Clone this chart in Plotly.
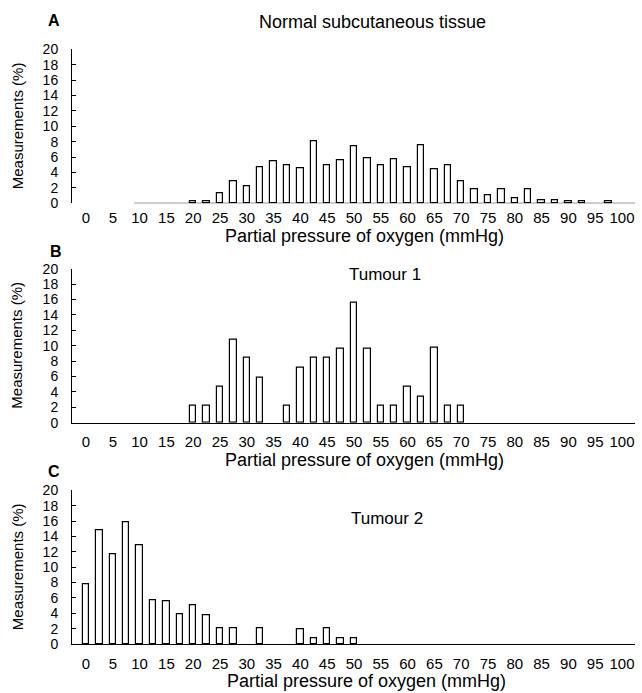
import plotly.graph_objects as go

# ---- data ----
x_ticks = [0, 5, 10, 15, 20, 25, 30, 35, 40, 45, 50, 55, 60, 65, 70, 75, 80, 85, 90, 95, 100]
y_ticks = [0, 2, 4, 6, 8, 10, 12, 14, 16, 18, 20]

normal_x = [20, 22.5, 25, 27.5, 30, 32.5, 35, 37.5, 40, 42.5, 45, 47.5, 50, 52.5, 55, 57.5,
            60, 62.5, 65, 67.5, 70, 72.5, 75, 77.5, 80, 82.5, 85, 87.5, 90, 92.5, 97.5]
normal_y = [0.3, 0.3, 1.3, 2.8, 2.2, 4.7, 5.4, 5.0, 4.5, 8.1, 5.0, 5.6, 7.4, 5.9, 4.9, 5.7,
            4.7, 7.5, 4.4, 4.9, 2.9, 1.8, 1.1, 1.8, 0.6, 1.8, 0.4, 0.4, 0.3, 0.3, 0.3]

tumour1_x = [20, 22.5, 25, 27.5, 30, 32.5, 37.5, 40, 42.5, 45, 47.5, 50, 52.5, 55, 57.5,
             60, 62.5, 65, 67.5, 70]
tumour1_y = [2.2, 2.2, 4.7, 10.8, 8.4, 5.8, 2.2, 7.2, 8.4, 8.4, 9.6, 15.6, 9.6, 2.2, 2.2,
             4.7, 3.4, 9.7, 2.2, 2.2]

tumour2_x = [0, 2.5, 5, 7.5, 10, 12.5, 15, 17.5, 20, 22.5, 25, 27.5, 32.5, 40, 42.5, 45, 47.5, 50]
tumour2_y = [7.8, 14.8, 11.7, 15.8, 12.8, 5.7, 5.6, 3.9, 5.0, 3.8, 2.0, 2.0, 2.0, 1.9, 0.8, 2.1, 0.8, 0.8]

panel_titles = ["Normal subcutaneous tissue", "Tumour 1", "Tumour 2"]
panel_letters = ["A", "B", "C"]
x_title = "Partial pressure of oxygen (mmHg)"
y_title = "Measurements (%)"

# ---- layout constants (pixels) ----
W, H = 642, 693
ML, MR = 72, 7
PW = W - ML - MR
FONT = "Liberation Sans, Arial, Helvetica, sans-serif"

# plot bottom/top (pixel y of value 0 and value 20) per panel
panel_px = [(203.3, 49.3), (422.7, 268.7), (644.0, 490.3)]
label_standoff = [4, 5, 6]
title_pos = [(372.5, 21.7), (385, 275), (386.7, 518.3)]
title_size = [18, 17, 17]
letter_pos = [(54, 21), (56, 251), (54, 471)]
xtitle_pos = [(364, 236), (364, 460), (366, 681)]

def px_x(p):
    return (p - ML) / PW

def px_y(p):
    return 1 - p / H

fig = go.Figure()
series = [(normal_x, normal_y), (tumour1_x, tumour1_y), (tumour2_x, tumour2_y)]
for i, (xs, ys) in enumerate(series):
    suffix = "" if i == 0 else str(i + 1)
    fig.add_trace(go.Bar(
        x=xs, y=ys, width=1.2,
        marker=dict(color="white", line=dict(color="black", width=1.2)),
        xaxis="x" + suffix, yaxis="y" + suffix, showlegend=False,
    ))

x_range = [(ML - 86) / 5.36, (W - MR - 86) / 5.36]
layout = dict(
    width=W, height=H, margin=dict(l=ML, r=MR, t=0, b=0),
    paper_bgcolor="white", plot_bgcolor="white",
    font=dict(family=FONT, color="black", size=14),
    bargap=0, showlegend=False,
)
annotations = []
shapes = []
for i in range(3):
    suffix = "" if i == 0 else str(i + 1)
    y0p, y1p = panel_px[i]
    layout["xaxis" + suffix] = dict(
        domain=[0, 1], range=x_range, anchor="y" + suffix,
        tickmode="array", tickvals=x_ticks, ticks="",
        ticklabelstandoff=label_standoff[i],
        showgrid=False, zeroline=False,
        showline=(i != 0), linecolor="black", linewidth=1,
        tickfont=dict(size=15), automargin=False, fixedrange=True,
    )
    layout["yaxis" + suffix] = dict(
        domain=[px_y(y0p), px_y(y1p)], range=[0, 20], anchor="x" + suffix,
        tickmode="array", tickvals=y_ticks, ticks="inside", ticklen=4,
        tickcolor="black", tickwidth=1, ticklabelstandoff=10,
        showgrid=False, zeroline=False,
        showline=True, linecolor="black", linewidth=1,
        tickfont=dict(size=14), automargin=False, fixedrange=True,
    )
    tx, ty = title_pos[i]
    annotations.append(dict(text=panel_titles[i], x=px_x(tx), y=px_y(ty), xref="paper", yref="paper",
                            xanchor="center", yanchor="middle", showarrow=False,
                            font=dict(size=title_size[i])))
    lx, ly = letter_pos[i]
    annotations.append(dict(text="<b>" + panel_letters[i] + "</b>", x=px_x(lx), y=px_y(ly),
                            xref="paper", yref="paper", xanchor="center", yanchor="middle",
                            showarrow=False, font=dict(size=16)))
    xx, xy = xtitle_pos[i]
    annotations.append(dict(text=x_title, x=px_x(xx), y=px_y(xy), xref="paper", yref="paper",
                            xanchor="center", yanchor="middle", showarrow=False, font=dict(size=18),
                            borderpad=0))
    annotations.append(dict(text=y_title, x=px_x(17), y=px_y((y0p + y1p) / 2), xref="paper", yref="paper",
                            xanchor="center", yanchor="middle", textangle=-90, showarrow=False,
                            font=dict(size=15), borderpad=0))

# baseline of panel A starts a little to the right of the y axis
shapes.append(dict(type="line", xref="x", yref="y", x0=9, x1=x_range[1], y0=0, y1=0,
                   line=dict(color="black", width=1)))
layout["annotations"] = annotations
layout["shapes"] = shapes
fig.update_layout(**layout)
fig.write_html("out.html", config={"displayModeBar": False},
               post_script="document.body.style.margin='0';document.body.style.padding='0';")
